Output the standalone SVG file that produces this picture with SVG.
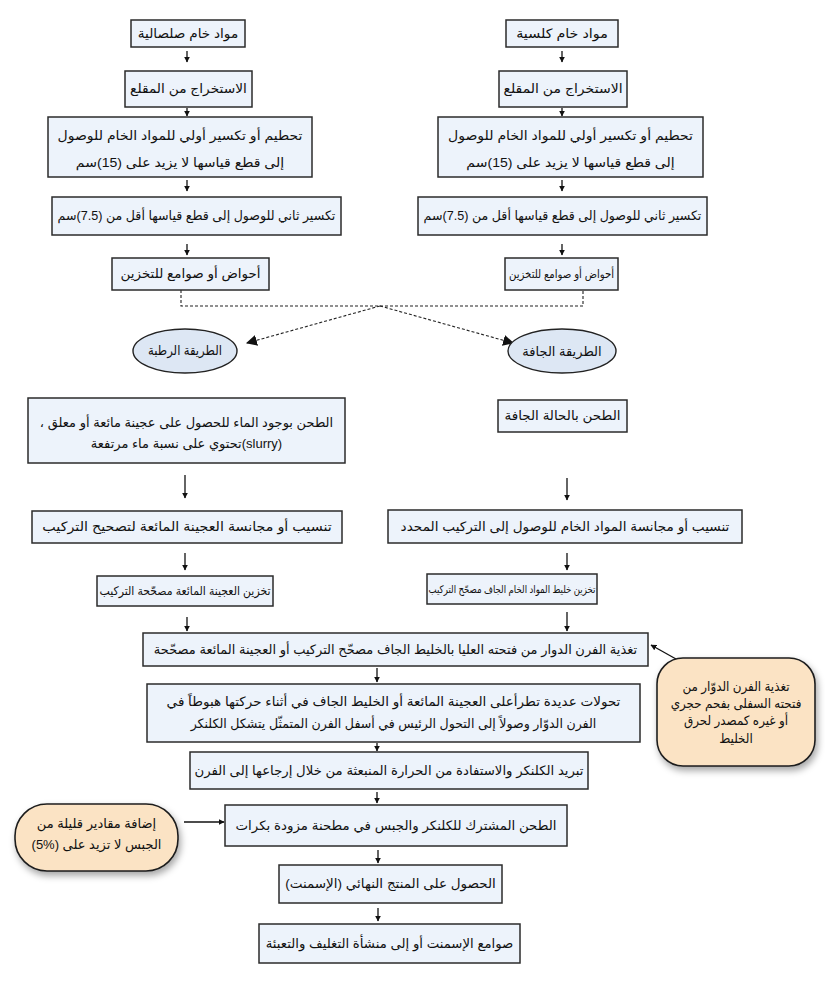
<svg xmlns="http://www.w3.org/2000/svg" width="825" height="989" viewBox="0 0 825 989">
<style>
.box{fill:#edf3fb;stroke:#2b2b2b;stroke-width:1.5}
.ell{fill:#dde7f4;stroke:#222;stroke-width:1.4}
.note{fill:#fbe3c4;stroke:#1e1e1e;stroke-width:1.6}
text{font-family:"Liberation Sans","DejaVu Sans",sans-serif;font-size:13px;fill:#111;text-anchor:middle;direction:rtl}
.s115{font-size:11.5px}
.s12{font-size:12px}
.s105{font-size:10.5px}
.ln{stroke:#111;stroke-width:1.3;fill:none}
.dash{stroke:#222;stroke-width:1.1;fill:none;stroke-dasharray:3 2}
</style>
<defs>
<marker id="ah" viewBox="0 0 10 10" refX="9" refY="5" markerWidth="6" markerHeight="6" markerUnits="userSpaceOnUse" orient="auto"><path d="M0,0 L10,5 L0,10 z" fill="#111"/></marker>
<marker id="ahb" viewBox="0 0 10 10" refX="9" refY="5" markerWidth="11" markerHeight="11" markerUnits="userSpaceOnUse" orient="auto"><path d="M0,0 L10,5 L0,10 z" fill="#111"/></marker>
<filter id="sh" x="-20%" y="-20%" width="150%" height="160%"><feDropShadow dx="2" dy="4" stdDeviation="3.5" flood-color="#000" flood-opacity="0.35"/></filter>
</defs>
<rect width="825" height="989" fill="#fff"/>

<g id="connectors">
<line class="ln" x1="187" y1="51" x2="187" y2="62" marker-end="url(#ah)"/>
<line class="ln" x1="187" y1="108" x2="187" y2="116" marker-end="url(#ah)"/>
<line class="ln" x1="187" y1="180" x2="187" y2="191" marker-end="url(#ah)"/>
<line class="ln" x1="187" y1="244" x2="187" y2="255" marker-end="url(#ah)"/>
<line class="ln" x1="562" y1="51" x2="562" y2="62" marker-end="url(#ah)"/>
<line class="ln" x1="562" y1="108" x2="562" y2="116" marker-end="url(#ah)"/>
<line class="ln" x1="562" y1="180" x2="562" y2="191" marker-end="url(#ah)"/>
<line class="ln" x1="562" y1="244" x2="562" y2="255" marker-end="url(#ah)"/>
<path class="dash" d="M181,290 V306 H583 V290"/>
<line class="dash" x1="380" y1="306" x2="247" y2="343" marker-end="url(#ahb)"/>
<line class="dash" x1="380" y1="306" x2="513" y2="343" marker-end="url(#ahb)"/>
<line class="ln" x1="185" y1="475" x2="185" y2="498" marker-end="url(#ah)"/>
<line class="ln" x1="185" y1="553" x2="185" y2="570" marker-end="url(#ah)"/>
<line class="ln" x1="187" y1="617" x2="187" y2="631" marker-end="url(#ah)"/>
<line class="ln" x1="567" y1="478" x2="567" y2="500" marker-end="url(#ah)"/>
<line class="ln" x1="567" y1="553" x2="567" y2="570" marker-end="url(#ah)"/>
<line class="ln" x1="567" y1="612" x2="567" y2="631" marker-end="url(#ah)"/>
<line class="ln" x1="377" y1="668" x2="377" y2="682" marker-end="url(#ah)"/>
<line class="ln" x1="377" y1="743" x2="377" y2="751" marker-end="url(#ah)"/>
<line class="ln" x1="377" y1="792" x2="377" y2="803" marker-end="url(#ah)"/>
<line class="ln" x1="378" y1="850" x2="378" y2="863" marker-end="url(#ah)"/>
<line class="ln" x1="378" y1="908" x2="378" y2="921" marker-end="url(#ah)"/>
<line class="ln" x1="676" y1="659" x2="651" y2="645" marker-end="url(#ah)"/>
<line class="ln" x1="184" y1="822" x2="224" y2="822" marker-end="url(#ah)"/>
</g>

<g id="L1"><rect class="box" x="131" y="20" width="114" height="27"/>
<g transform="matrix(1.05 0 0 1 -9.4 0)"><text x="188" y="38">مواد خام صلصالية</text></g></g>
<g id="L2"><rect class="box" x="125" y="71" width="127" height="36"/>
<g transform="matrix(1.06 0 0 1 -11.31 0)"><text x="188.5" y="93.5">الاستخراج من المقلع</text></g></g>
<g id="L3"><rect class="box" x="48" y="117" width="264" height="60"/>
<g transform="matrix(1.08 0 0 1 -14.4 0)"><text x="180" y="140">تحطيم أو تكسير أولي للمواد الخام للوصول</text>
<text x="180" y="167">إلى قطع قياسها لا يزيد على (15)سم</text></g></g>
<g id="L4"><rect class="box" x="52" y="197" width="289" height="38"/>
<g transform="matrix(0.97 0 0 1 5.9 0)"><text x="196.5" y="220.5">تكسير ثاني للوصول إلى قطع قياسها أقل من (7.5)سم</text></g></g>
<g id="L5"><rect class="box" x="112" y="258" width="157" height="32"/>
<g transform="matrix(1.04 0 0 1 -7.62 0)"><text x="190.5" y="278.5">أحواض أو صوامع للتخزين</text></g></g>

<g id="R1"><rect class="box" x="506" y="20" width="112" height="27"/>
<g transform="matrix(1.1 0 0 1 -56.2 0)"><text x="562" y="38">مواد خام كلسية</text></g></g>
<g id="R2"><rect class="box" x="499" y="71" width="128" height="36"/>
<g transform="matrix(1.08 0 0 1 -45.04 0)"><text x="563" y="93.5">الاستخراج من المقلع</text></g></g>
<g id="R3"><rect class="box" x="438" y="117" width="265" height="60"/>
<g transform="matrix(1.08 0 0 1 -45.64 0)"><text x="570.5" y="140">تحطيم أو تكسير أولي للمواد الخام للوصول</text>
<text x="570.5" y="167">إلى قطع قياسها لا يزيد على (15)سم</text></g></g>
<g id="R4"><rect class="box" x="418" y="197" width="289" height="38"/>
<g transform="matrix(0.97 0 0 1 16.88 0)"><text x="562.5" y="220.5">تكسير ثاني للوصول إلى قطع قياسها أقل من (7.5)سم</text></g></g>
<g id="R5"><rect class="box" x="505" y="258" width="113" height="32"/>
<g transform="matrix(0.88 0 0 1 67.38 0)"><text class="s115" x="561.5" y="278">أحواض أو صوامع للتخزين</text></g></g>

<g id="wet"><ellipse class="ell" cx="185" cy="351" rx="52" ry="22"/>
<g transform="matrix(0.9 0 0 1 18.5 0)"><text x="185" y="355.5">الطريقة الرطبة</text></g></g>
<g id="dry"><ellipse class="ell" cx="562" cy="351" rx="54" ry="22"/>
<text x="562" y="355.5">الطريقة الجافة</text></g>

<g id="W1"><rect class="box" x="28" y="398" width="317" height="65"/>
<text x="186.5" y="426.5">الطحن بوجود الماء للحصول على عجينة مائعة أو معلق ،</text>
<text x="186.5" y="448">(slurry)تحتوي على نسبة ماء مرتفعة</text></g>
<g id="W2"><rect class="box" x="32" y="511" width="310" height="32"/>
<g transform="matrix(1.1 0 0 1 -18.7 0)"><text x="187" y="531.5">تنسيب أو مجانسة العجينة المائعة لتصحيح التركيب</text></g></g>
<g id="W3"><rect class="box" x="97" y="576" width="176" height="30"/>
<g transform="matrix(0.91 0 0 1 16.65 0)"><text class="s12" x="185" y="595">تخزين العجينة المائعة مصحّحة التركيب</text></g></g>

<g id="D1"><rect class="box" x="498" y="400" width="129" height="32"/>
<g transform="matrix(1.04 0 0 1 -22.5 0)"><text x="562.5" y="420.5">الطحن بالحالة الجافة</text></g></g>
<g id="D2"><rect class="box" x="388" y="510" width="354" height="33"/>
<g transform="matrix(1.05 0 0 1 -28.25 0)"><text x="565" y="531">تنسيب أو مجانسة المواد الخام للوصول إلى التركيب المحدد</text></g></g>
<g id="D3"><rect class="box" x="427" y="574" width="170" height="30"/>
<g transform="matrix(0.82 0 0 1 92.16 0)"><text class="s105" x="512" y="593">تخزين خليط المواد الخام الجاف مصحّح التركيب</text></g></g>

<g id="feed"><rect class="box" x="143" y="633" width="505" height="33"/>
<text x="395.5" y="654">تغذية الفرن الدوار من فتحته العليا بالخليط الجاف مصحّح التركيب أو العجينة المائعة مصحّحة</text></g>
<g id="transform"><rect class="box" x="147" y="684" width="493" height="58"/>
<g transform="matrix(1.04 0 0 1 -15.74 0)"><text x="393.5" y="706.5">تحولات عديدة تطرأعلى العجينة المائعة أو الخليط الجاف في أثناء حركتها هبوطاً في</text></g>
<g transform="matrix(0.97 0 0 1 11.8 0)"><text x="393.5" y="728">الفرن الدوّار وصولاً إلى التحول الرئيس في أسفل الفرن المتمثّل يتشكل الكلنكر</text></g></g>
<g id="cooling"><rect class="box" x="190" y="752" width="398" height="37"/>
<g transform="matrix(1.02 0 0 1 -7.78 0)"><text x="389" y="775">تبريد الكلنكر والاستفادة من الحرارة المنبعثة من خلال إرجاعها إلى الفرن</text></g></g>
<g id="grinding"><rect class="box" x="225" y="805" width="342" height="41"/>
<g transform="matrix(1.03 0 0 1 -11.88 0)"><text x="396" y="830">الطحن المشترك للكلنكر والجبس في مطحنة مزودة بكرات</text></g></g>
<g id="product"><rect class="box" x="279" y="865" width="223" height="38"/>
<g transform="matrix(1.04 0 0 1 -15.62 0)"><text x="390.5" y="888.5">الحصول على المنتج النهائي (الإسمنت)</text></g></g>
<g id="silos"><rect class="box" x="259" y="924" width="261" height="39"/>
<g transform="matrix(1.02 0 0 1 -7.79 0)"><text x="389.5" y="948">صوامع الإسمنت أو إلى منشأة التغليف والتعبئة</text></g></g>

<g id="fuel-note"><rect class="note" filter="url(#sh)" x="657" y="658" width="158" height="108" rx="26"/>
<g transform="matrix(0.92 0 0 1 58.88 0)">
<text x="736" y="691">تغذية الفرن الدوّار من</text>
<text x="736" y="708">فتحته السفلى بفحم حجري</text>
<text x="736" y="725">أو غيره كمصدر لحرق</text>
<text x="736" y="743">الخليط</text></g></g>
<g id="gypsum-note"><rect class="note" filter="url(#sh)" x="15" y="804" width="163" height="67" rx="32"/>
<text x="96.5" y="828">إضافة مقادير قليلة من</text>
<text x="96.5" y="849">الجبس لا تزيد على (%5)</text></g>
</svg>
